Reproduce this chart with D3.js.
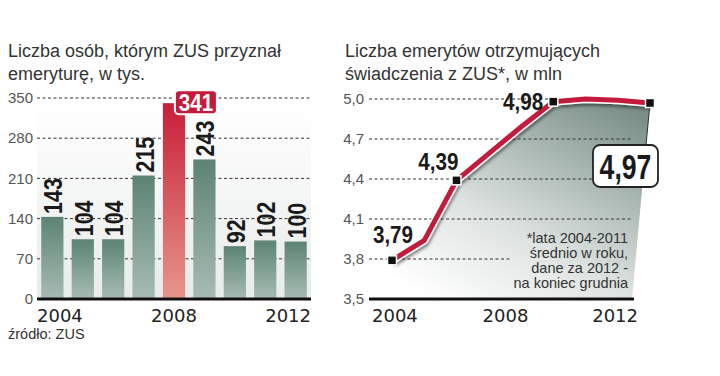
<!DOCTYPE html>
<html>
<head>
<meta charset="utf-8">
<script src="https://cdn.jsdelivr.net/npm/d3@7"></script>
<style>
  body { margin: 0; background: #fff; }
  svg { display: block; }
  .title { font-family: "Liberation Sans", Arial, sans-serif; font-size: 18px; fill: #333; }
  .tick { font-family: "Liberation Sans", Arial, sans-serif; font-size: 15px; fill: #555; }
  .year { font-family: "DejaVu Sans", sans-serif; font-size: 18px; fill: #222; }
  .val { font-family: "Liberation Sans", Arial, sans-serif; font-weight: bold; fill: #1a1a1a; }
  .note { font-family: "Liberation Sans", Arial, sans-serif; font-size: 14.5px; fill: #333; }
</style>
</head>
<body>
<svg id="chart" width="720" height="376"></svg>
<script>
// --- left chart: new pensions granted (thousands)
const barYears = [2004, 2005, 2006, 2007, 2008, 2009, 2010, 2011, 2012];
const barValues = [143, 104, 104, 215, 341, 243, 92, 102, 100];
const barHighlight = 2008;
const barTicks = [0, 70, 140, 210, 280, 350];

// --- right chart: pensioners (millions)
const lineYears = [2004, 2005, 2006, 2007, 2008, 2009, 2010, 2011, 2012];
const lineValues = [3.79, 3.94, 4.39, 4.59, 4.79, 4.98, 5.00, 4.99, 4.97];
const lineTicks = [3.5, 3.8, 4.1, 4.4, 4.7, 5.0];
const lineMarked = [2004, 2006, 2009, 2012];

const axisYears = [2004, 2008, 2012];
const noteLines = ["*lata 2004-2011", "średnio w roku,", "dane za 2012 -", "na koniec grudnia"];

const RED = "#c41a3b";
const comma = d3.formatLocale({decimal: ",", thousands: " ", grouping: [3], currency: ["", ""]});
const f1 = comma.format(".1f"), f2 = comma.format(".2f");

const svg = d3.select("#chart");
const defs = svg.append("defs");

function vGrad(id, top, bottom) {
  const g = defs.append("linearGradient").attr("id", id)
    .attr("x1", 0).attr("y1", 0).attr("x2", 0).attr("y2", 1);
  g.append("stop").attr("offset", 0).attr("stop-color", top);
  g.append("stop").attr("offset", 1).attr("stop-color", bottom);
}
vGrad("barGreen", "#5c8373", "#a7bcb4");
vGrad("barRed", "#c81f3a", "#e6968a");
vGrad("panel", "#ffffff", "#e7ebe9");

const areaGrad = defs.append("linearGradient").attr("id", "areaGrad")
  .attr("x1", 0.15).attr("y1", 1).attr("x2", 0.85).attr("y2", 0);
areaGrad.append("stop").attr("offset", 0).attr("stop-color", "#ffffff");
areaGrad.append("stop").attr("offset", 0.38).attr("stop-color", "#dde3e0");
areaGrad.append("stop").attr("offset", 1).attr("stop-color", "#7a8f87");

const shadow = defs.append("filter").attr("id", "shadow")
  .attr("x", "-10%").attr("y", "-10%").attr("width", "120%").attr("height", "130%");
shadow.append("feDropShadow").attr("dx", 1).attr("dy", 2.5).attr("stdDeviation", 1.5)
  .attr("flood-color", "#000").attr("flood-opacity", 0.45);

// ================= LEFT =================
const L = {x0: 37, x1: 311, y0: 299, y1: 98};
const xb = d3.scaleBand().domain(barYears).range([L.x0, L.x1]).paddingInner(0.27).paddingOuter(0.14);
const yb = d3.scaleLinear().domain([0, 350]).range([L.y0, L.y1]);
const bars = barYears.map((y, i) => ({year: y, value: barValues[i]}));

svg.append("text").attr("class", "title").attr("x", 8).attr("y", 57).text("Liczba osób, którym ZUS przyznał");
svg.append("text").attr("class", "title").attr("x", 8).attr("y", 80).text("emeryturę, w tys.");

svg.append("rect").attr("x", L.x0).attr("y", yb(350) + 6).attr("width", L.x1 - L.x0)
  .attr("height", L.y0 - yb(350) - 6).attr("fill", "url(#panel)");

const left = svg.append("g");
left.selectAll(".grid").data(barTicks.filter(d => d > 0)).join("line")
  .attr("x1", L.x0).attr("x2", L.x1 - 1).attr("y1", d => yb(d)).attr("y2", d => yb(d))
  .attr("stroke", "#333").attr("stroke-dasharray", "3,2.5").attr("stroke-width", 1);
left.selectAll(".tl").data(barTicks).join("text").attr("class", "tick")
  .attr("x", 33).attr("y", d => yb(d)).attr("dy", "0.35em").attr("text-anchor", "end").text(d => d);

left.selectAll(".bar").data(bars).join("rect")
  .attr("x", d => xb(d.year)).attr("width", xb.bandwidth())
  .attr("y", d => yb(d.value)).attr("height", d => L.y0 - yb(d.value))
  .attr("fill", d => d.year === barHighlight ? "url(#barRed)" : "url(#barGreen)");

// rotated bold value labels, squeezed along the text to look condensed
left.selectAll(".bl").data(bars.filter(d => d.year !== barHighlight)).join("text")
  .attr("class", "val").style("font-size", "25px")
  .attr("transform", d => `translate(${xb(d.year) + xb.bandwidth() / 2 + 1},${yb(d.value) - 3}) rotate(-90) scale(0.86,1)`)
  .attr("dy", "0.36em").text(d => d.value);

// highlighted value in red box
const hb = bars.find(d => d.year === barHighlight);
const hx = xb(hb.year) + 12, hy = yb(hb.value) - 13;
left.append("rect").attr("x", hx).attr("y", hy).attr("width", 42).attr("height", 24).attr("rx", 4)
  .attr("fill", RED).attr("stroke", "#fff").attr("stroke-width", 2);
left.append("text").attr("class", "val").style("font-size", "24px").style("fill", "#fff")
  .attr("transform", `translate(${hx + 21},${hy + 21}) scale(0.86,1)`)
  .attr("text-anchor", "middle").text(hb.value);

left.append("line").attr("x1", L.x0).attr("x2", L.x1).attr("y1", L.y0).attr("y2", L.y0)
  .attr("stroke", "#111").attr("stroke-width", 3);
left.selectAll(".yr").data(axisYears).join("text").attr("class", "year")
  .attr("x", (d, i) => i === 0 ? L.x0 : i === axisYears.length - 1 ? L.x1 : (L.x0 + L.x1) / 2)
  .attr("text-anchor", (d, i) => i === 0 ? "start" : i === axisYears.length - 1 ? "end" : "middle")
  .attr("y", 322).text(d => d);
svg.append("text").attr("class", "title").style("font-size", "14.5px").attr("x", 8).attr("y", 339).text("źródło: ZUS");

// ================= RIGHT =================
const R = {x0: 369, x1: 634, y0: 299, y1: 99};
const xl = d3.scaleLinear().domain([2004, 2012]).range([392, 650]);
const yl = d3.scaleLinear().domain([3.5, 5.0]).range([R.y0, R.y1]);

svg.append("text").attr("class", "title").attr("x", 345).attr("y", 57).text("Liczba emerytów otrzymujących");
svg.append("text").attr("class", "title").attr("x", 345).attr("y", 80).text("świadczenia z ZUS*, w mln");

const right = svg.append("g");
const pts = lineYears.map((y, i) => [xl(y), yl(lineValues[i])]);
const last = pts[pts.length - 1];
const areaPts = pts.concat([[last[0] - 18, R.y0], [pts[0][0], R.y0]]);
right.append("path").attr("d", d3.line()(areaPts) + "Z").attr("fill", "url(#areaGrad)");
right.append("line").attr("x1", last[0]).attr("y1", last[1]).attr("x2", last[0] - 4).attr("y2", last[1] + 42)
  .attr("stroke", "#333").attr("stroke-width", 1);

// footnote
const note = right.append("text").attr("class", "note").attr("text-anchor", "end");
note.selectAll("tspan").data(noteLines).join("tspan").attr("x", 628)
  .attr("y", (d, i) => 243 + i * 15).text(d => d);
const nb = note.node().getBBox();

right.selectAll(".grid").data(lineTicks.filter(d => d > 3.5)).join("line")
  .attr("x1", R.x0)
  .attr("x2", d => (yl(d) > nb.y && yl(d) < nb.y + nb.height) ? nb.x - 4 : R.x1 - 1)
  .attr("y1", d => yl(d)).attr("y2", d => yl(d))
  .attr("stroke", "#333").attr("stroke-dasharray", "3,2.5").attr("stroke-width", 1);
right.selectAll(".tl").data(lineTicks).join("text").attr("class", "tick")
  .attr("x", 364).attr("y", d => yl(d)).attr("dy", "0.35em").attr("text-anchor", "end").text(d => f1(d));

const line = d3.line().x(d => xl(d[0])).y(d => yl(d[1]));
const lineData = lineYears.map((y, i) => [y, lineValues[i]]);
right.append("path").datum(lineData).attr("d", line).attr("fill", "none")
  .attr("stroke", "#fff").attr("stroke-width", 8).attr("stroke-linejoin", "round").attr("filter", "url(#shadow)");
right.append("path").datum(lineData).attr("d", line).attr("fill", "none")
  .attr("stroke", RED).attr("stroke-width", 5).attr("stroke-linejoin", "round");

const marked = lineData.filter(d => lineMarked.includes(d[0]));
right.selectAll(".mk").data(marked).join("rect")
  .attr("x", d => xl(d[0]) - 4.5).attr("y", d => yl(d[1]) - 4.5).attr("width", 9).attr("height", 9)
  .attr("fill", "#111").attr("stroke", "#fff").attr("stroke-width", 1.5);

// value labels: placement per marker (anchor, dx, dy)
const place = [["middle", 1, -17], ["end", 2, -10], ["end", -10, 8]];
right.selectAll(".ml").data(marked.slice(0, 3)).join("text").attr("class", "val").style("font-size", "24px")
  .attr("transform", (d, i) => `translate(${xl(d[0]) + place[i][1]},${yl(d[1]) + place[i][2]}) scale(0.86,1)`)
  .attr("text-anchor", (d, i) => place[i][0]).text(d => f2(d[1]));

// last value in a box
const lv = marked[marked.length - 1];
const bx = xl(lv[0]) - 57, by = yl(lv[1]) + 42;
right.append("rect").attr("x", bx).attr("y", by).attr("width", 65).attr("height", 42).attr("rx", 7)
  .attr("fill", "#fff").attr("stroke", "#222").attr("stroke-width", 1.8);
right.append("text").attr("class", "val").style("font-size", "36px")
  .attr("transform", `translate(${bx + 32.5},${by + 34}) scale(0.74,1)`)
  .attr("text-anchor", "middle").text(f2(lv[1]));

right.append("line").attr("x1", R.x0).attr("x2", R.x1).attr("y1", R.y0).attr("y2", R.y0)
  .attr("stroke", "#111").attr("stroke-width", 3);
right.selectAll(".yr").data(axisYears).join("text").attr("class", "year")
  .attr("x", (d, i) => i === 0 ? R.x0 + 3 : i === axisYears.length - 1 ? R.x1 + 4 : (R.x0 + R.x1) / 2 + 4)
  .attr("text-anchor", (d, i) => i === 0 ? "start" : i === axisYears.length - 1 ? "end" : "middle")
  .attr("y", 322).text(d => d);
</script>
</body>
</html>
